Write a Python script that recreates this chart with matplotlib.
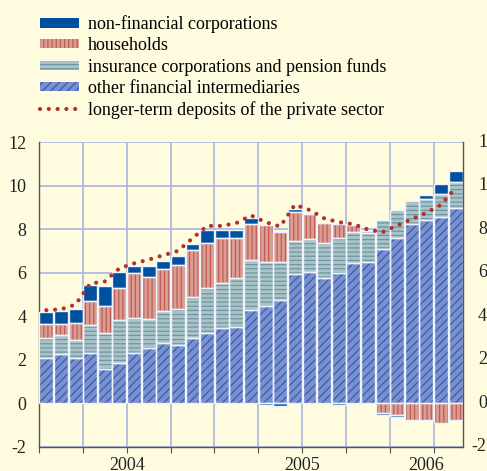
import numpy as np
import matplotlib
matplotlib.use("Agg")
import matplotlib.pyplot as plt
import matplotlib.transforms as mtransforms
from matplotlib.patches import Patch
from matplotlib.lines import Line2D

# monthly contributions, Jan 2004 - May 2006 (percentage points)
ofi = [2.08, 2.28, 2.08, 2.30, 1.58, 1.85, 2.30, 2.55, 2.77, 2.70, 3.02, 3.25, 3.46, 3.50,
       4.28, 4.46, 4.74, 5.94, 6.02, 5.74, 6.00, 6.43, 6.50, 7.09, 7.60, 8.24, 8.44, 8.57, 8.98]
icpf = [0.92, 0.87, 0.82, 1.28, 1.67, 1.97, 1.60, 1.33, 1.48, 1.62, 1.88, 2.03, 2.09, 2.24,
        2.30, 2.05, 1.74, 1.52, 1.53, 1.61, 1.58, 1.43, 1.30, 1.32, 1.30, 1.05, 0.93, 1.06, 1.20]
hh = [0.66, 0.51, 0.80, 1.12, 1.23, 1.48, 2.10, 1.94, 1.90, 2.05, 2.15, 2.10, 2.03, 1.86,
      1.65, 1.66, 1.38, 1.32, 1.16, 0.93, 0.67, 0.31, 0.10, -0.42, -0.55, -0.75, -0.75, -0.90, -0.75]
nfc = [0.54, 0.57, 0.62, 0.73, 0.89, 0.73, 0.30, 0.49, 0.40, 0.41, 0.27, 0.59, 0.39, 0.37,
       0.27, -0.05, -0.12, 0.16, 0.00, 0.00, -0.08, 0.00, 0.05, -0.10, -0.06, 0.00, 0.18, 0.46, 0.47]
deposits = [4.28, 4.32, 4.54, 5.50, 5.60, 6.20, 6.43, 6.60, 6.80, 7.00, 7.58, 8.15, 8.15, 8.28,
            8.63, 8.32, 8.12, 9.12, 8.88, 8.50, 8.32, 8.23, 7.98, 7.86, 8.17, 8.46, 8.75, 9.12, 9.90]
years = ["2004", "2005", "2006"]
yticks = list(range(-2, 13, 2))

bg = "#fffbdf"
plt.rcParams["font.family"] = ["Liberation Serif", "DejaVu Serif"]
plt.rcParams["hatch.linewidth"] = 0.9
plt.rcParams["axes.unicode_minus"] = False

fig = plt.figure(figsize=(4.87, 4.71), dpi=100, facecolor=bg)
ax = fig.add_axes([0.0801, 0.0510, 0.8706, 0.6475], facecolor=bg)

x = np.arange(len(ofi))
series = [
    (ofi, "#7d8fcc", "#2a62b8", "////"),
    (icpf, "#a9c3c8", "#6f96a0", "----"),
    (hh, "#dc9c92", "#bb5f55", "||||"),
    (nfc, "#0050a0", "#0050a0", None),
]

pos_base = np.zeros(len(x))
neg_base = np.zeros(len(x))
for vals, fc, hc, hatch in series:
    v = np.array(vals)
    base = np.where(v >= 0, pos_base, neg_base)
    ax.bar(x, v, 0.95, bottom=base, color=fc, edgecolor=hc, hatch=hatch,
           linewidth=0, zorder=2)
    ax.bar(x, v, 0.95, bottom=base, facecolor="none", edgecolor="#eef2fa",
           linewidth=1.0, zorder=3)
    pos_base = pos_base + np.where(v >= 0, v, 0)
    neg_base = neg_base + np.where(v < 0, v, 0)

ax.plot(x, deposits, color="#b0302a", linewidth=3.0, linestyle=(0, (0.01, 2.1)),
        dash_capstyle="round", zorder=4)

ax.set_xlim(-0.5, 28.5)
ax.set_ylim(-2, 12)
ax.set_yticks(yticks)
ax.set_xticks(np.arange(-0.5, 28, 3))
ax.set_xticklabels([])
ax.grid(True, color="#a8b4dc", linewidth=1.2, zorder=0)
ax.set_axisbelow(True)
ax.axhline(0, color="#555555", linewidth=1.2, zorder=1)

for side in ["left", "right", "bottom"]:
    ax.spines[side].set_color("#555555")
    ax.spines[side].set_linewidth(1.0)
ax.spines["top"].set_visible(False)
ax.tick_params(axis="y", length=0, labelsize=13, pad=9, colors="#222222")
ax.tick_params(axis="x", direction="out", length=4, color="#555555")

# right-hand labels: digits aligned, minus sign hanging to the left
ytrans = ax.get_yaxis_transform()
for v in yticks:
    shift = -7 if v < 0 else 0
    off = mtransforms.ScaledTranslation((15 + shift) / 100, 0, fig.dpi_scale_trans)
    ax.text(1.0, v, str(v), transform=ytrans + off, ha="left", va="center",
            fontsize=13, color="#222222", clip_on=False)

for label, xc in zip(years, [5.5, 17.5, 26.0]):
    ax.text(xc, -0.033, label, transform=ax.get_xaxis_transform(), ha="center",
            va="top", fontsize=13, color="#222222")

handles = [
    Patch(facecolor="#0050a0", edgecolor="#0050a0", linewidth=0),
    Patch(facecolor="#dc9c92", edgecolor="#bb5f55", hatch="||||", linewidth=0),
    Patch(facecolor="#a9c3c8", edgecolor="#6f96a0", hatch="----", linewidth=0),
    Patch(facecolor="#7d8fcc", edgecolor="#2a62b8", hatch="////", linewidth=0),
    Line2D([], [], color="#b0302a", linewidth=3.0, linestyle=(0, (0.01, 2.1)),
           dash_capstyle="round"),
]
labels = ["non-financial corporations", "households",
          "insurance corporations and pension funds",
          "other financial intermediaries",
          "longer-term deposits of the private sector"]
fig.legend(handles, labels, loc="upper left", bbox_to_anchor=(0.068, 0.983),
           frameon=False, fontsize=13, handlelength=2.15, handleheight=0.45,
           handletextpad=0.5, labelspacing=0.22, borderaxespad=0)

fig.savefig("out.png", dpi=100, facecolor=bg)
